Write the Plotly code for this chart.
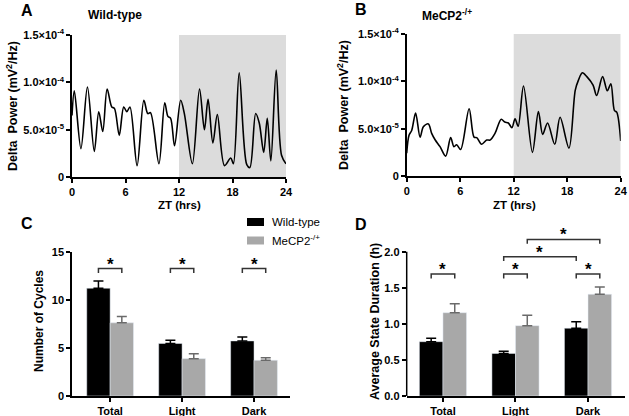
import numpy as np
import plotly.graph_objects as go

W, H = 629, 416
FONT = "Arial, Liberation Sans, sans-serif"

# --- panel A / B: delta power traces (values in units of 1e-5 mV^2/Hz) ---
wt_t = [0, 0.26, 1.0, 1.73, 2.5, 3.0, 3.45, 3.94, 4.46, 4.76, 5.3, 5.8, 6.15, 6.5,
        7.3, 8.06, 8.5, 8.8, 9.75, 10.4, 10.76, 11.06, 11.5, 12.19, 12.6, 13.5, 14.3,
        14.85, 15.26, 15.8, 16.3, 17.1, 17.8, 18.1, 18.75, 19.6, 19.95, 20.6, 21.0,
        21.5, 21.9, 22.3, 22.9, 23.5, 24]
wt_v = [6.5, 9.1, 3.0, 9.5, 2.7, 6.9, 4.8, 9.3, 7.4, 7.25, 4.4, 7.4, 6.9, 7.4,
        1.2, 8.1, 6.7, 6.8, 1.4, 7.85, 6.4, 6.2, 3.3, 8.1, 6.7, 1.4, 9.3,
        5.0, 8.2, 3.6, 6.6, 1.2, 2.0, 1.4, 11.0, 1.3, 1.0, 6.7, 5.7,
        2.6, 6.2, 1.7, 11.3, 2.3, 1.4]

het_t = [0, 0.26, 0.56, 1.0, 1.5, 1.87, 2.43, 2.8, 3.2, 3.74, 4.37, 4.93, 5.3, 5.6,
         6.05, 7.0, 7.55, 7.85, 8.4, 8.97, 9.35, 9.9, 10.6, 11.0, 11.4, 11.8, 12.15,
         12.5, 13.1, 14.1, 14.77, 15.25, 15.8, 16.6, 17.2, 18.2, 18.9, 19.25, 19.7,
         20.2, 20.9, 21.3, 21.97, 22.5, 22.9, 23.3, 23.55, 24]
het_v = [2.4, 4.3, 4.8, 6.65, 4.1, 5.2, 5.5, 4.5, 3.8, 3.1, 2.1, 4.05, 3.1, 3.3,
         2.8, 7.1, 4.1, 4.05, 3.35, 3.8, 3.8, 4.5, 6.0, 5.7, 5.6, 5.1, 6.05,
         5.25, 9.5, 2.5, 6.8, 4.4, 5.6, 3.35, 6.2, 2.95, 9.05, 10.1, 10.9,
         10.5, 9.6, 8.5, 10.5, 9.0, 9.75, 6.9, 6.75, 3.7]

# --- panel C / D: bar data ---
groups = ["Total", "Light", "Dark"]
cycles_wt = [11.25, 5.48, 5.75]
cycles_wt_sem = [0.75, 0.34, 0.42]
cycles_het = [7.64, 3.9, 3.73]
cycles_het_sem = [0.66, 0.5, 0.25]

dur_wt = [0.753, 0.59, 0.94]
dur_wt_sem = [0.047, 0.032, 0.09]
dur_het = [1.155, 0.975, 1.41]
dur_het_sem = [0.125, 0.145, 0.1]

BLACK = "#000000"
GREY = "#a8a8a8"
SHADE = "#dcdcdc"


def px_x(p):
    return p / W


def px_y(p):
    return 1 - p / H


fig = go.Figure()

fig.add_trace(go.Scatter(x=wt_t, y=np.array(wt_v) * 1e-5, mode="lines",
                         line=dict(color=BLACK, width=1.6, shape="spline", smoothing=0.9),
                         xaxis="x", yaxis="y"))
fig.add_trace(go.Scatter(x=het_t, y=np.array(het_v) * 1e-5, mode="lines",
                         line=dict(color=BLACK, width=1.6, shape="spline", smoothing=0.9),
                         xaxis="x2", yaxis="y2"))

err_wt = dict(type="data", array=cycles_wt_sem, arrayminus=[0, 0, 0], symmetric=False,
              color=BLACK, thickness=1.5, width=5)
err_het = dict(type="data", array=cycles_het_sem, arrayminus=[0, 0, 0], symmetric=False,
               color="#6a6a6a", thickness=1.5, width=5)
fig.add_trace(go.Bar(x=groups, y=cycles_wt, name="Wild-type", marker_color=BLACK,
                     error_y=err_wt, xaxis="x3", yaxis="y3", offsetgroup="a"))
fig.add_trace(go.Bar(x=groups, y=cycles_het, name="MeCP2-/+", marker_color=GREY,
                     error_y=err_het, xaxis="x3", yaxis="y3", offsetgroup="b"))

fig.add_trace(go.Bar(x=groups, y=dur_wt, marker_color=BLACK,
                     error_y=dict(err_wt, array=dur_wt_sem), xaxis="x4", yaxis="y4",
                     offsetgroup="a"))
fig.add_trace(go.Bar(x=groups, y=dur_het, marker_color=GREY,
                     error_y=dict(err_het, array=dur_het_sem), xaxis="x4", yaxis="y4",
                     offsetgroup="b"))

axis_common = dict(showline=True, linecolor=BLACK, linewidth=1.5, ticks="outside",
                   ticklen=4, tickwidth=1.5, tickcolor=BLACK, showgrid=False, zeroline=False,
                   automargin=False,
                   tickfont=dict(family=FONT, size=11, color=BLACK, weight="bold"))

ytv = [0, 5e-5, 1e-4, 1.5e-4]
ytt = ["0", "5.0×10<sup>-5</sup>", "1.0×10<sup>-4</sup>", "1.5×10<sup>-4</sup>"]

BARGAP = 0.35

fig.update_layout(
    width=W, height=H, margin=dict(l=0, r=0, t=0, b=0, autoexpand=False),
    paper_bgcolor="white", plot_bgcolor="white",
    font=dict(family=FONT, color=BLACK),
    barmode="group", bargap=BARGAP, bargroupgap=0, showlegend=False,
    xaxis=dict(axis_common, domain=[px_x(72), px_x(286)], range=[0, 24],
               tickvals=[0, 6, 12, 18, 24], anchor="y"),
    yaxis=dict(axis_common, domain=[px_y(177), px_y(35)], range=[0, 1.5e-4],
               tickvals=ytv, ticktext=ytt, anchor="x"),
    xaxis2=dict(axis_common, domain=[px_x(406.7), px_x(620.7)], range=[0, 24],
                tickvals=[0, 6, 12, 18, 24], anchor="y2"),
    yaxis2=dict(axis_common, domain=[px_y(176), px_y(34)], range=[0, 1.5e-4],
                tickvals=ytv, ticktext=ytt, anchor="x2"),
    xaxis3=dict(axis_common, domain=[px_x(72), px_x(290)], range=[-0.53, 2.5], anchor="y3"),
    yaxis3=dict(axis_common, domain=[px_y(396), px_y(252.3)], range=[0, 15],
                tickvals=[0, 5, 10, 15], anchor="x3"),
    xaxis4=dict(axis_common, domain=[px_x(406.7), px_x(625)], range=[-0.5, 2.51], anchor="y4"),
    yaxis4=dict(axis_common, showline=False, domain=[px_y(396), px_y(233.7)], range=[0, 2.25],
                tickvals=[0, 0.5, 1.0, 1.5, 2.0], ticktext=["0.0", "0.5", "1.0", "1.5", "2.0"],
                anchor="x4"),
)

shapes = []
# dark phase shading
for xr, yr in [("x", "y"), ("x2", "y2")]:
    shapes.append(dict(type="rect", xref=xr, yref=yr, x0=12, x1=24, y0=0, y1=1.5e-4,
                       fillcolor=SHADE, line=dict(width=0), layer="below"))
# y axis line of panel D (stops at 2.0)
shapes.append(dict(type="line", xref="x4 domain", yref="y4", x0=0, x1=0, y0=0, y1=2.0,
                   line=dict(color=BLACK, width=1.5)))

# legend drawn by hand (tighter than plotly's own)
shapes.append(dict(type="rect", xref="paper", yref="paper", x0=px_x(247), x1=px_x(264),
                   y0=px_y(226), y1=px_y(218), fillcolor=BLACK, line=dict(width=0)))
shapes.append(dict(type="rect", xref="paper", yref="paper", x0=px_x(247), x1=px_x(264),
                   y0=px_y(244.5), y1=px_y(236.5), fillcolor=GREY, line=dict(width=0)))

off = (1 - BARGAP) / 4
annotations = []


def bracket(xr, yr, xa, xb, y, drop):
    shapes.append(dict(type="path", xref=xr, yref=yr,
                       path=f"M {xa},{y - drop} L {xa},{y} L {xb},{y} L {xb},{y - drop}",
                       line=dict(color="#333333", width=1.5)))
    annotations.append(dict(xref=xr, yref=yr, x=(xa + xb) / 2, y=y, text="<b>*</b>",
                            showarrow=False, yanchor="bottom", yshift=-7,
                            font=dict(family=FONT, size=17, color=BLACK)))


for i in range(3):
    bracket("x3", "y3", i - off, i + off, 13.3, 0.45)
    bracket("x4", "y4", i - off, i + off, 1.69, 0.06)
bracket("x4", "y4", 1 - off, 2 - off, 1.93, 0.06)
bracket("x4", "y4", 1 + off, 2 + off, 2.17, 0.06)


# text labels
def label(x, y, text, size, xanchor="center", **kw):
    annotations.append(dict(xref="paper", yref="paper", x=px_x(x), y=px_y(y), text=text,
                            showarrow=False, xanchor=xanchor, yanchor="middle",
                            font=dict(family=FONT, size=size, color=BLACK), **kw))


label(27, 10, "<b>A</b>", 16)
label(361, 9, "<b>B</b>", 16)
label(27, 223, "<b>C</b>", 16)
label(361, 224, "<b>D</b>", 16)
label(86, 15, "<b>Wild-type</b>", 12, xanchor="left")
label(420, 15, "<b>MeCP2<sup>-/+</sup></b>", 12, xanchor="left")
label(12, 106, "<b>Delta  Power (mV<sup>2</sup>/Hz)</b>", 12.5, textangle=-90)
label(343, 105, "<b>Delta  Power (mV<sup>2</sup>/Hz)</b>", 12.5, textangle=-90)
label(179, 205, "<b>ZT (hrs)</b>", 11.5)
label(514, 205, "<b>ZT (hrs)</b>", 11.5)
label(39, 321, "<b>Number of Cycles</b>", 12, textangle=-90)
label(375, 322, "<b>Average State Duration (h)</b>", 12.5, textangle=-90)
label(270, 222, "Wild-type", 11.5, xanchor="left")
label(270, 240, "MeCP2<sup>-/+</sup>", 11.5, xanchor="left")

fig.update_layout(shapes=shapes, annotations=annotations)

# drop the browser's default 8px body margin so the figure sits at the page corner
fig.write_html("out.html", config={"displayModeBar": False},
               post_script="document.body.style.margin='0';document.body.style.overflow='hidden';")
